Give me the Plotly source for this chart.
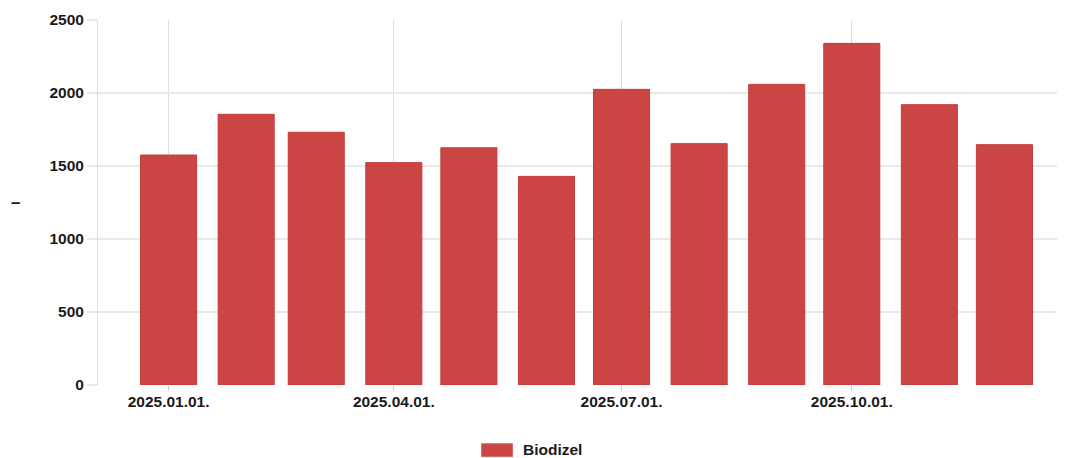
import plotly.graph_objects as go

months = ["2025-01-01", "2025-02-01", "2025-03-01", "2025-04-01", "2025-05-01", "2025-06-01",
          "2025-07-01", "2025-08-01", "2025-09-01", "2025-10-01", "2025-11-01", "2025-12-01"]
biodizel = [1575, 1854, 1731, 1523, 1625, 1429, 2025, 1653, 2059, 2340, 1920, 1646]
tick_dates = ["2025-01-01", "2025-04-01", "2025-07-01", "2025-10-01"]
tick_labels = ["2025.01.01.", "2025.04.01.", "2025.07.01.", "2025.10.01."]
series_name = "Biodizel"
y_title = "–"

BAR = "#cc4545"
FONT = "Liberation Sans, Arial, sans-serif"
TXT = "#1a1a1a"

fig = go.Figure()
fig.add_trace(go.Bar(
    x=months, y=biodizel, name=series_name,
    width=22.4 * 86400000,
    marker=dict(color=BAR, line=dict(color="#c43b3b", width=1)),
    showlegend=False,
))

# page body has an 8px offset, so the figure is sized to fit the window
fig.update_layout(
    width=1057, height=450,
    margin=dict(l=90, r=3, t=12, b=73),
    plot_bgcolor="white", paper_bgcolor="white",
    font=dict(family=FONT, color=TXT),
    xaxis=dict(
        type="date",
        range=["2024-12-03 19:00", "2025-12-24 00:00"],
        tickvals=tick_dates, ticktext=tick_labels,
        tickfont=dict(size=15.5, weight=700, color=TXT),
        showgrid=True, gridcolor="#dcdcdc", gridwidth=1,
        ticks="outside", ticklen=5, tickcolor="#cccccc",
        ticklabelstandoff=-3,
        showline=False, zeroline=False,
    ),
    yaxis=dict(
        range=[0, 2500],
        tickvals=[0, 500, 1000, 1500, 2000, 2500],
        tickfont=dict(size=15.5, weight=700, color=TXT),
        showgrid=True, gridcolor="#e9e9e9", gridwidth=2,
        ticks="outside", ticklen=10, tickcolor="#e9e9e9", tickwidth=2,
        showline=True, linecolor="#dcdcdc", linewidth=1,
        zeroline=False,
    ),
)

fig.add_annotation(text=y_title, xref="paper", yref="paper", x=0, y=0.5,
                   xshift=-83, showarrow=False, xanchor="center", yanchor="middle",
                   font=dict(size=17, weight=700, color=TXT))

# legend
fig.add_shape(type="rect", xref="paper", yref="paper",
              x0=0.3979, x1=0.4301, y0=-0.1964, y1=-0.1608,
              fillcolor=BAR, line=dict(color="#d96a6a", width=1))
fig.add_annotation(text=series_name, xref="paper", yref="paper", x=0.4387, y=-0.178,
                   xanchor="left", yanchor="middle", showarrow=False,
                   font=dict(size=15.5, weight=700, color=TXT))

fig.write_html("out.html")
